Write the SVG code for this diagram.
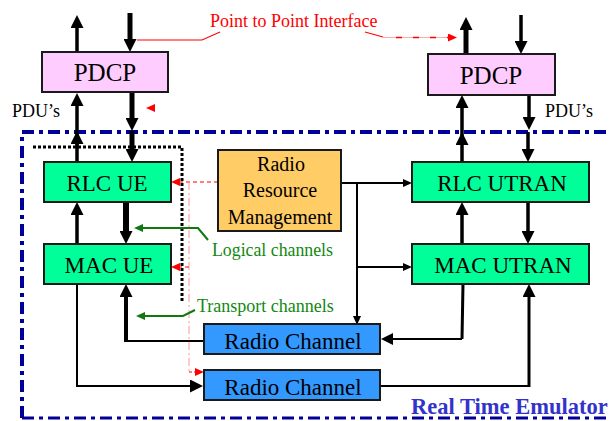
<svg xmlns="http://www.w3.org/2000/svg" width="610" height="421" viewBox="0 0 610 421">
<style>
.box{stroke:#1a1a1a;stroke-width:2}
.pdcp{fill:#FFCCFF}
.rlc{fill:#00FF99}
.rrm{fill:#FFCC66}
.rc{fill:#3399FF}
.ctr{fill:#000;text-anchor:middle}
.big{font-size:25px}
.mid{font-size:23px}
.rr{font-size:20px}
.k{stroke:#000;fill:none}
.w3{stroke-width:3.5}
.w5{stroke-width:5}
.w2{stroke-width:2}
.red{stroke:#FF0000;fill:none;stroke-width:1.2}
.grn{stroke:#117711;fill:none;stroke-width:2}
</style>
<defs>
<marker id="ab" markerUnits="userSpaceOnUse" markerWidth="13" markerHeight="13" refX="0" refY="6.5" orient="auto"><path d="M0,0L13,6.5L0,13z" fill="#000"/></marker>
<marker id="am" markerUnits="userSpaceOnUse" markerWidth="12" markerHeight="12" refX="0" refY="6" orient="auto"><path d="M0,0L12,6L0,12z" fill="#000"/></marker>
<marker id="as" markerUnits="userSpaceOnUse" markerWidth="9" markerHeight="8" refX="0" refY="4" orient="auto"><path d="M0,0L9,4L0,8z" fill="#000"/></marker>
<marker id="ar" markerUnits="userSpaceOnUse" markerWidth="9" markerHeight="8" refX="0" refY="4" orient="auto"><path d="M0,0L9,4L0,8z" fill="#FF0000"/></marker>
<marker id="ag" markerUnits="userSpaceOnUse" markerWidth="9" markerHeight="8" refX="0" refY="4" orient="auto"><path d="M0,0L9,4L0,8z" fill="#117711"/></marker>
</defs>

<!-- emulator boundary -->
<path d="M22,418 L22,132 L615,132" fill="none" stroke="#000099" stroke-width="4" stroke-dasharray="12,5,4,5"/>
<path d="M22,418 L615,418" fill="none" stroke="#000099" stroke-width="3" stroke-dasharray="12,5,4,5"/>
<!-- UE dotted frame -->
<path d="M33,147 L182,147 L182,302" fill="none" stroke="#000" stroke-width="3" stroke-dasharray="3,2"/>

<g id="connectors">
<line class="k w3" x1="77" y1="52" x2="77" y2="28" marker-end="url(#ab)"/>
<line class="k w5" x1="130" y1="13" x2="130" y2="39" marker-end="url(#ab)"/>
<line class="k w3" x1="77" y1="145" x2="77" y2="106" marker-end="url(#ab)"/>
<line class="k w5" x1="132" y1="93" x2="132" y2="118" marker-end="url(#ab)"/>
<line class="k w3" x1="77" y1="162" x2="77" y2="144" marker-end="url(#ab)"/>
<line class="k w5" x1="132" y1="131" x2="132" y2="149" marker-end="url(#ab)"/>
<line class="k w3" x1="77" y1="244" x2="77" y2="215" marker-end="url(#ab)"/>
<line class="k" stroke-width="6" x1="126" y1="202" x2="126" y2="231" marker-end="url(#ab)"/>
<polyline class="k w2" points="126,341 204,341"/>
<line class="k" stroke-width="4" x1="126" y1="342" x2="126" y2="297" marker-end="url(#ab)"/>
<polyline class="k w2" points="77,284 77,386 190,386" marker-end="url(#ab)"/>
<line class="k w5" x1="466" y1="58" x2="466" y2="30" marker-end="url(#ab)"/>
<line class="k w3" x1="521" y1="15" x2="521" y2="41" marker-end="url(#ab)"/>
<line class="k w3" x1="462" y1="142" x2="462" y2="108" marker-end="url(#ab)"/>
<line class="k w3" x1="529" y1="95" x2="529" y2="117" marker-end="url(#ab)"/>
<line class="k w3" x1="462" y1="162" x2="462" y2="145" marker-end="url(#ab)"/>
<line class="k w3" x1="528" y1="132" x2="528" y2="149" marker-end="url(#ab)"/>
<line class="k w3" x1="528" y1="202" x2="528" y2="231" marker-end="url(#ab)"/>
<line class="k w3" x1="462" y1="244" x2="462" y2="215" marker-end="url(#ab)"/>
<polyline class="k" stroke-width="3" points="463,284 462,339"/>
<polyline class="k w2" points="462,339 393,339" marker-end="url(#am)"/>
<polyline class="k w2" points="380,386 529,386"/>
<line class="k" stroke-width="3" x1="529" y1="387" x2="529" y2="297" marker-end="url(#ab)"/>
<polyline class="k w2" points="341,183 403,183" marker-end="url(#as)"/>
<polyline class="k w2" points="357,183 357,316" marker-end="url(#as)"/>
<polyline class="k w2" points="357,267 403,267" marker-end="url(#as)"/>
<line class="red" x1="218" y1="182" x2="180" y2="182" stroke-dasharray="4,3" marker-end="url(#ar)"/>
<line x1="189" y1="182" x2="189" y2="372" stroke="#FF9999" stroke-width="1" stroke-dasharray="8,3,2,3"/>
<line class="red" x1="189" y1="267" x2="180" y2="267" stroke-dasharray="4,3" marker-end="url(#ar)"/>
<line class="red" x1="189" y1="372" x2="195" y2="372" stroke-dasharray="3,2" marker-end="url(#ar)"/>
<polygon points="146,108 155,104 155,112" fill="#FF0000"/>
<polyline class="red" stroke-width="2" points="137,40 202,40 220,32"/>
<polyline class="red" stroke-width="2" points="365,32 383,37"/>
<line x1="383" y1="37.5" x2="448" y2="37.5" stroke="#FFAAAA" stroke-width="1"/>
<line x1="396" y1="37.5" x2="448" y2="37.5" stroke="#FF0000" stroke-width="1.5" stroke-dasharray="6,11" marker-end="url(#ar)"/>
<polyline class="grn" points="208,240 198,228 143,228" marker-end="url(#ag)"/>
<polyline class="grn" points="195,310 183,316 145,316" marker-end="url(#ag)"/>
</g>

<g font-family="'Liberation Serif','Times New Roman',serif">
<g id="pdcp-ue"><rect class="box pdcp" x="42" y="52" width="126" height="40"/><text class="ctr big" x="105" y="81">PDCP</text></g>
<g id="pdcp-utran"><rect class="box pdcp" x="428" y="54" width="127" height="41"/><text class="ctr big" x="491" y="84">PDCP</text></g>
<g id="rlc-ue"><rect class="box rlc" x="44" y="162" width="127" height="40"/><text class="ctr mid" x="107" y="191">RLC UE</text></g>
<g id="mac-ue"><rect class="box rlc" x="44" y="244" width="127" height="40"/><text class="ctr mid" x="109" y="273">MAC UE</text></g>
<g id="rlc-utran"><rect class="box rlc" x="412" y="162" width="177" height="40"/><text class="ctr mid" x="502" y="191">RLC UTRAN</text></g>
<g id="mac-utran"><rect class="box rlc" x="412" y="244" width="177" height="40"/><text class="ctr mid" x="503" y="273">MAC UTRAN</text></g>
<g id="rrm"><rect class="box rrm" x="218" y="150" width="123" height="81"/>
<text class="ctr rr" x="281" y="171">Radio</text><text class="ctr rr" x="280" y="197">Resource</text><text class="ctr rr" x="280" y="224">Management</text></g>
<g id="radio-channel-1"><rect class="box rc" x="204" y="324" width="176" height="30"/><text class="ctr mid" x="293" y="349">Radio Channel</text></g>
<g id="radio-channel-2"><rect class="box rc" x="204" y="370" width="176" height="30"/><text class="ctr mid" x="293" y="395">Radio Channel</text></g>

<g id="labels">
<text x="210" y="27" fill="#FF0000" font-size="18">Point to Point Interface</text>
<text x="12" y="117" font-size="18">PDU’s</text>
<text x="545" y="117" font-size="18">PDU’s</text>
<text x="212" y="256" fill="#118811" font-size="17.8">Logical channels</text>
<text x="197" y="312" fill="#118811" font-size="18">Transport channels</text>
<text x="411" y="414" font-weight="bold" font-size="22.5" fill="#3333CC">Real Time Emulator</text>
</g>
</g>
</svg>
